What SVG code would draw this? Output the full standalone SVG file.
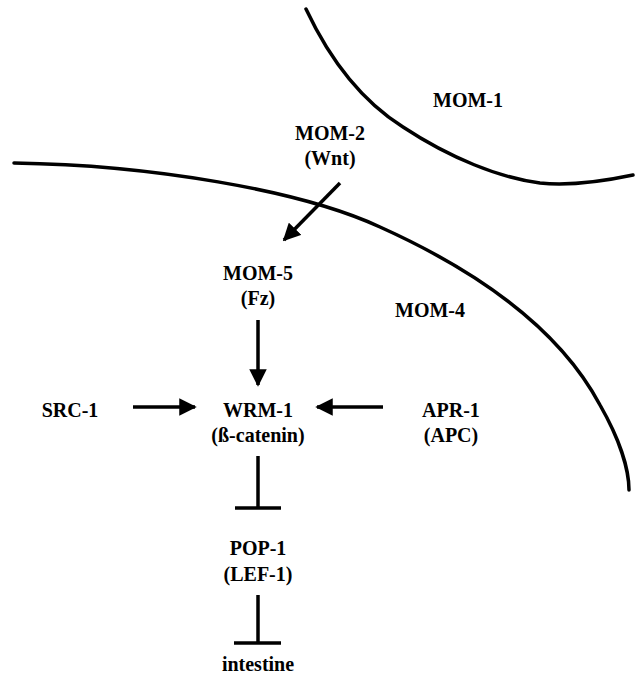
<svg xmlns="http://www.w3.org/2000/svg" width="635" height="677" viewBox="0 0 635 677">
  <style>
    .lbl { font-family: 'Liberation Serif', serif; font-weight: bold; font-size: 20px; fill: #000; text-anchor: middle; }
    .cell { fill: none; stroke: #000; stroke-width: 3.5; stroke-linecap: round; }
    .edge { fill: none; stroke: #000; stroke-width: 3.5; }
  </style>
  <defs>
    <marker id="head" viewBox="0 0 10 10" refX="9" refY="5" markerWidth="5" markerHeight="5" markerUnits="strokeWidth" orient="auto">
      <path d="M0,0 L10,5 L0,10 z" fill="#000"/>
    </marker>
  </defs>
  <rect width="635" height="677" fill="#fff"/>

  <!-- cell boundaries -->
  <g id="cells">
    <path class="cell" d="M306,9 C330,60 360,100 403,127 C450,158 500,178 540,183 C570,186 600,182 633,175"/>
    <path class="cell" d="M14,163 C150,165 300,190 380,227 C480,272 560,330 600,405 C620,440 629,470 629,490"/>
  </g>

  <g id="mom1"><text class="lbl" x="468" y="107">MOM-1</text></g>
  <g id="mom2"><text class="lbl" x="330" y="140">MOM-2</text><text class="lbl" x="330" y="165">(Wnt)</text></g>
  <g id="mom5"><text class="lbl" x="258" y="280">MOM-5</text><text class="lbl" x="258" y="305">(Fz)</text></g>
  <g id="mom4"><text class="lbl" x="430" y="317">MOM-4</text></g>
  <g id="src1"><text class="lbl" x="70" y="417">SRC-1</text></g>
  <g id="wrm1"><text class="lbl" x="258" y="417">WRM-1</text><text class="lbl" x="258" y="442">(ß-catenin)</text></g>
  <g id="apr1"><text class="lbl" x="451" y="417">APR-1</text><text class="lbl" x="451" y="442">(APC)</text></g>
  <g id="pop1"><text class="lbl" x="258" y="555">POP-1</text><text class="lbl" x="258" y="581">(LEF-1)</text></g>
  <g id="intestine"><text class="lbl" x="258" y="671">intestine</text></g>

  <!-- connectors -->
  <g id="connectors">
    <line class="edge" x1="340" y1="183" x2="284" y2="240" marker-end="url(#head)"/>
    <line class="edge" x1="258" y1="320" x2="258" y2="385" marker-end="url(#head)"/>
    <line class="edge" x1="133" y1="407" x2="195" y2="407" marker-end="url(#head)"/>
    <line class="edge" x1="383" y1="407" x2="317" y2="407" marker-end="url(#head)"/>
    <line class="edge" x1="258" y1="456" x2="258" y2="508"/>
    <line class="edge" x1="235" y1="508" x2="281" y2="508"/>
    <line class="edge" x1="258" y1="595" x2="258" y2="643"/>
    <line class="edge" x1="234" y1="643" x2="281" y2="643"/>
  </g>
</svg>
